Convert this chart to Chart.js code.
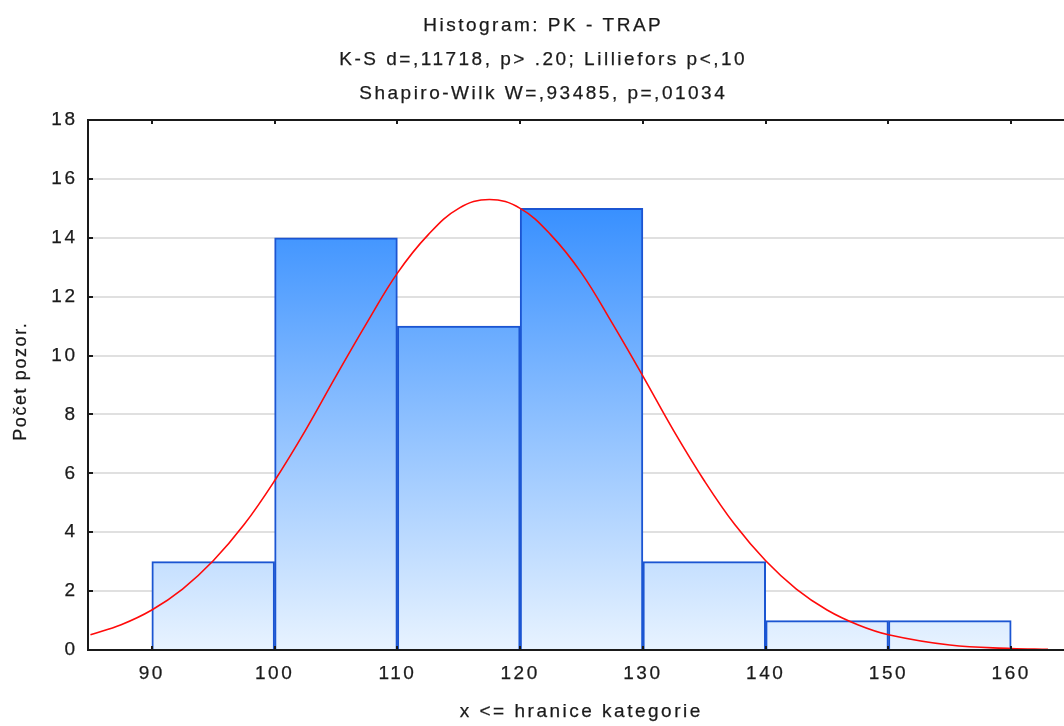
<!DOCTYPE html>
<html>
<head>
<meta charset="utf-8">
<script src="https://cdn.jsdelivr.net/npm/chart.js@4.4.1/dist/chart.umd.min.js"></script>
<style>
  html, body { margin: 0; padding: 0; background: #fff; overflow: hidden; }
  #wrap { width: 1064px; height: 726px; }
</style>
</head>
<body>
<div id="wrap"><canvas id="hist" width="1064" height="726"></canvas></div>
<script>
  "use strict";
  // histogram tridy (stred tridy) a pocty
  const binCenters = [95, 105, 115, 125, 135, 145, 155];
  const binCounts = [3, 14, 11, 15, 3, 1, 1];

  // ocekavana normalni krivka
  const curveX = [85, 87.5, 90, 92.5, 95, 97.5, 100, 102.5, 105, 107.5, 110, 112.5, 115, 117.5, 120, 122.5, 125, 127.5, 130, 132.5, 135, 137.5, 140, 142.5, 145, 147.5, 150, 155, 160, 163];
  const curveY = [0.52, 0.86, 1.36, 2.07, 3.03, 4.25, 5.75, 7.45, 9.3, 11.1, 12.8, 14.1, 15.0, 15.3, 15.0, 14.1, 12.8, 11.1, 9.3, 7.45, 5.75, 4.25, 3.03, 2.07, 1.36, 0.86, 0.52, 0.17, 0.05, 0.02];

  const xTicks = [90, 100, 110, 120, 130, 140, 150, 160];
  const yTicks = [0, 2, 4, 6, 8, 10, 12, 14, 16, 18];

  const titleLines = ["Histogram: PK - TRAP", "K-S d=,11718, p> .20; Lilliefors p<,10", "Shapiro-Wilk W=,93485, p=,01034"];
  const xTitle = "x <= hranice kategorie";
  const yTitle = "Počet pozor.";

  const FAMILY = "'Liberation Sans', Arial, sans-serif";
  const FSIZE = 19;
  const FONT = FSIZE + "px " + FAMILY;
  const TXT = "#1a1a1a";
  const LSPX = 2.5;
  const LS = LSPX + "px";
  const STROKE = 0.25; // trochu tucnejsi pismo jako v originale

  // rozestupy pismen jako v originale (siroke); canvas se pri resize resetuje
  const spacing = {
    id: "spacing",
    beforeLayout(chart) { chart.ctx.letterSpacing = LS; },
    beforeDraw(chart) { chart.ctx.letterSpacing = LS; }
  };

  function txt(ctx, t, x, y) {
    ctx.strokeText(t, x, y);
    ctx.fillText(t, x, y);
  }

  // popisky grafu + ramecek s tickami dovnitr
  const frame = {
    id: "frame",
    afterDatasetsDraw(chart) {
      const { ctx, chartArea: a, scales } = chart;
      ctx.save();
      ctx.strokeStyle = "#1a1a1a";
      ctx.lineWidth = 2;
      ctx.beginPath();
      ctx.moveTo(a.left, a.top); ctx.lineTo(a.right, a.top);
      ctx.moveTo(a.left, a.top - 1); ctx.lineTo(a.left, a.bottom + 1);
      ctx.moveTo(a.left, a.bottom); ctx.lineTo(a.right, a.bottom);
      xTicks.forEach((v) => {
        const px = Math.round(scales.x.getPixelForValue(v));
        ctx.moveTo(px, a.bottom); ctx.lineTo(px, a.bottom - 4);
        ctx.moveTo(px, a.top); ctx.lineTo(px, a.top + 4);
      });
      yTicks.forEach((v) => {
        const py = Math.round(scales.y.getPixelForValue(v));
        ctx.moveTo(a.left, py); ctx.lineTo(a.left + 5, py);
      });
      ctx.stroke();

      ctx.letterSpacing = LS;
      ctx.fillStyle = TXT;
      ctx.strokeStyle = TXT;
      ctx.lineWidth = STROKE;
      ctx.font = FONT;
      ctx.textAlign = "center";
      ctx.textBaseline = "alphabetic";
      const base = [31, 65, 99];
      const cx = 542 + LSPX / 2;
      titleLines.forEach((t, i) => txt(ctx, t, cx, base[i]));
      txt(ctx, xTitle, 580 + LSPX / 2, 717);
      ctx.font = "18px " + FAMILY;
      ctx.letterSpacing = "1.6px";
      ctx.translate(26, 382 - 0.8);
      ctx.rotate(-Math.PI / 2);
      txt(ctx, yTitle, 0, 0);
      ctx.restore();
    }
  };

  const ctx = document.getElementById("hist").getContext("2d");

  function barGradient(c) {
    const area = c.chart.chartArea;
    if (!area) return "#6aaeff";
    const g = c.chart.ctx.createLinearGradient(0, area.top, 0, area.bottom);
    g.addColorStop(0, "#157cff");
    g.addColorStop(1, "#e8f3ff");
    return g;
  }

  const tickFont = { family: FAMILY, size: FSIZE };

  new Chart(ctx, {
    type: "bar",
    data: {
      datasets: [
        {
          type: "line",
          order: 0,
          data: curveX.map((x, i) => ({ x: x, y: curveY[i] })),
          borderColor: "#ff0a0a",
          borderWidth: 1.6,
          pointRadius: 0,
          tension: 0.4,
          fill: false
        },
        {
          type: "bar",
          order: 1,
          data: binCenters.map((x, i) => ({ x: x, y: binCounts[i] })),
          backgroundColor: barGradient,
          borderColor: "#1b55d2",
          borderWidth: 2,
          borderSkipped: "bottom",
          barPercentage: 1,
          categoryPercentage: 1
        }
      ]
    },
    options: {
      responsive: false,
      animation: false,
      devicePixelRatio: 1,
      layout: { padding: { top: 120, right: 0, left: 0, bottom: 0 } },
      plugins: { legend: { display: false }, tooltip: { enabled: false }, title: { display: false } },
      scales: {
        x: {
          type: "linear",
          offset: false,
          min: 84.8,
          max: 164.3,
          grid: { display: false, offset: false },
          border: { display: false },
          afterBuildTicks: (s) => { s.ticks = xTicks.map((v) => ({ value: v })); },
          afterFit: (s) => { s.height = 76; },
          ticks: { color: TXT, font: tickFont, padding: 4, maxRotation: 0, autoSkip: false, textStrokeColor: TXT, textStrokeWidth: STROKE }
        },
        y: {
          min: 0,
          max: 18,
          grid: { color: "#e0e0e0", lineWidth: 2, drawTicks: false },
          border: { display: false },
          afterBuildTicks: (s) => { s.ticks = yTicks.map((v) => ({ value: v })); },
          afterFit: (s) => { s.width = 88; },
          ticks: { color: TXT, font: tickFont, padding: 13 - LSPX, textStrokeColor: TXT, textStrokeWidth: STROKE }
        }
      }
    },
    plugins: [spacing, frame]
  });
</script>
</body>
</html>
